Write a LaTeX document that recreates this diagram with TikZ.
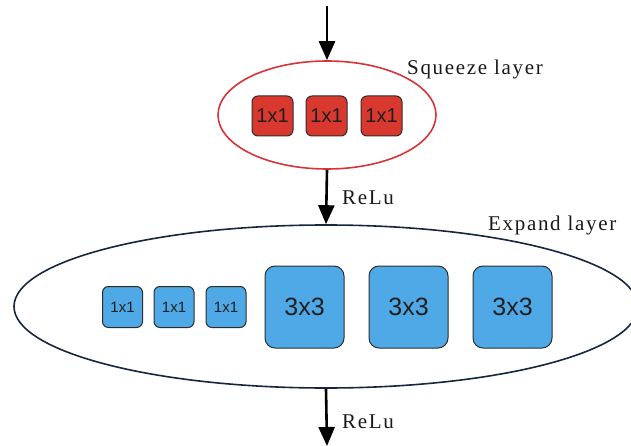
\documentclass[tikz,border=0pt]{standalone}
\usepackage{fontspec}
\setmainfont{Liberation Serif}
\newfontfamily\boxfont{Liberation Sans}
\newfontfamily\labelfont[LetterSpace=8]{Liberation Serif}
\usetikzlibrary{shapes.geometric,arrows.meta}
\definecolor{sqred}{RGB}{217,56,46}
\definecolor{sqline}{RGB}{214,52,56}
\definecolor{exblue}{RGB}{78,169,230}
\definecolor{exline}{RGB}{22,38,62}
\definecolor{boxline}{RGB}{45,45,45}
\tikzset{
  layer/.style={ellipse, inner sep=0pt, line width=1.6pt},
  kernel/.style={rounded corners=6pt, draw=boxline, line width=1pt, inner sep=0pt,
    font=\boxfont, text=black!88},
  redk/.style={kernel, fill=sqred, minimum width=41pt, minimum height=40pt, font=\boxfont\fontsize{20}{20}\selectfont},
  smallk/.style={kernel, fill=exblue, minimum width=40pt, minimum height=41pt, font=\boxfont\fontsize{15}{15}\selectfont},
  bigk/.style={kernel, fill=exblue, minimum width=79pt, minimum height=82pt, rounded corners=10pt, font=\boxfont\fontsize{25}{25}\selectfont},
  flow/.style={line width=2.6pt, -{Triangle[width=16pt,length=19pt]}},
  tag/.style={anchor=base west, inner sep=0pt, font=\labelfont\fontsize{21}{21}\selectfont, text=black!90}
}
\begin{document}
\begin{tikzpicture}[x=1pt,y=-1pt]
\useasboundingbox (0,0) rectangle (631,446);
% squeeze layer
\node[layer, draw=sqline, minimum width=218pt, minimum height=108pt] (sq) at (327,115) {};
\node[redk] (r1) at (272.5,116) {1x1};
\node[redk] (r2) at (326.5,116) {1x1};
\node[redk] (r3) at (381.5,116) {1x1};
\node[tag] (sqlab) at (407,75) {Squeeze layer};
% expand layer
\node[layer, draw=exline, minimum width=624pt, minimum height=163pt] (ex) at (326,306.5) {};
\node[smallk] (e1) at (122.5,307) {1x1};
\node[smallk] (e2) at (174,307) {1x1};
\node[smallk] (e3) at (226,307) {1x1};
\node[bigk] (b1) at (304.5,307) {3x3};
\node[bigk] (b2) at (408.5,307) {3x3};
\node[bigk] (b3) at (512.5,307) {3x3};
\node[tag] (exlab) at (488,230) {Expand layer};
% data flow
\coordinate (in) at (327,6);
\coordinate (out) at (327,446);
\draw[flow] (in) -- (sq.north);
\draw[flow] (sq.south) -- (ex.north);
\draw[flow] (ex.south) -- (out);
\node[tag] (relu1) at (342,205) {ReLu};
\node[tag] (relu2) at (342,428) {ReLu};
\end{tikzpicture}
\end{document}
